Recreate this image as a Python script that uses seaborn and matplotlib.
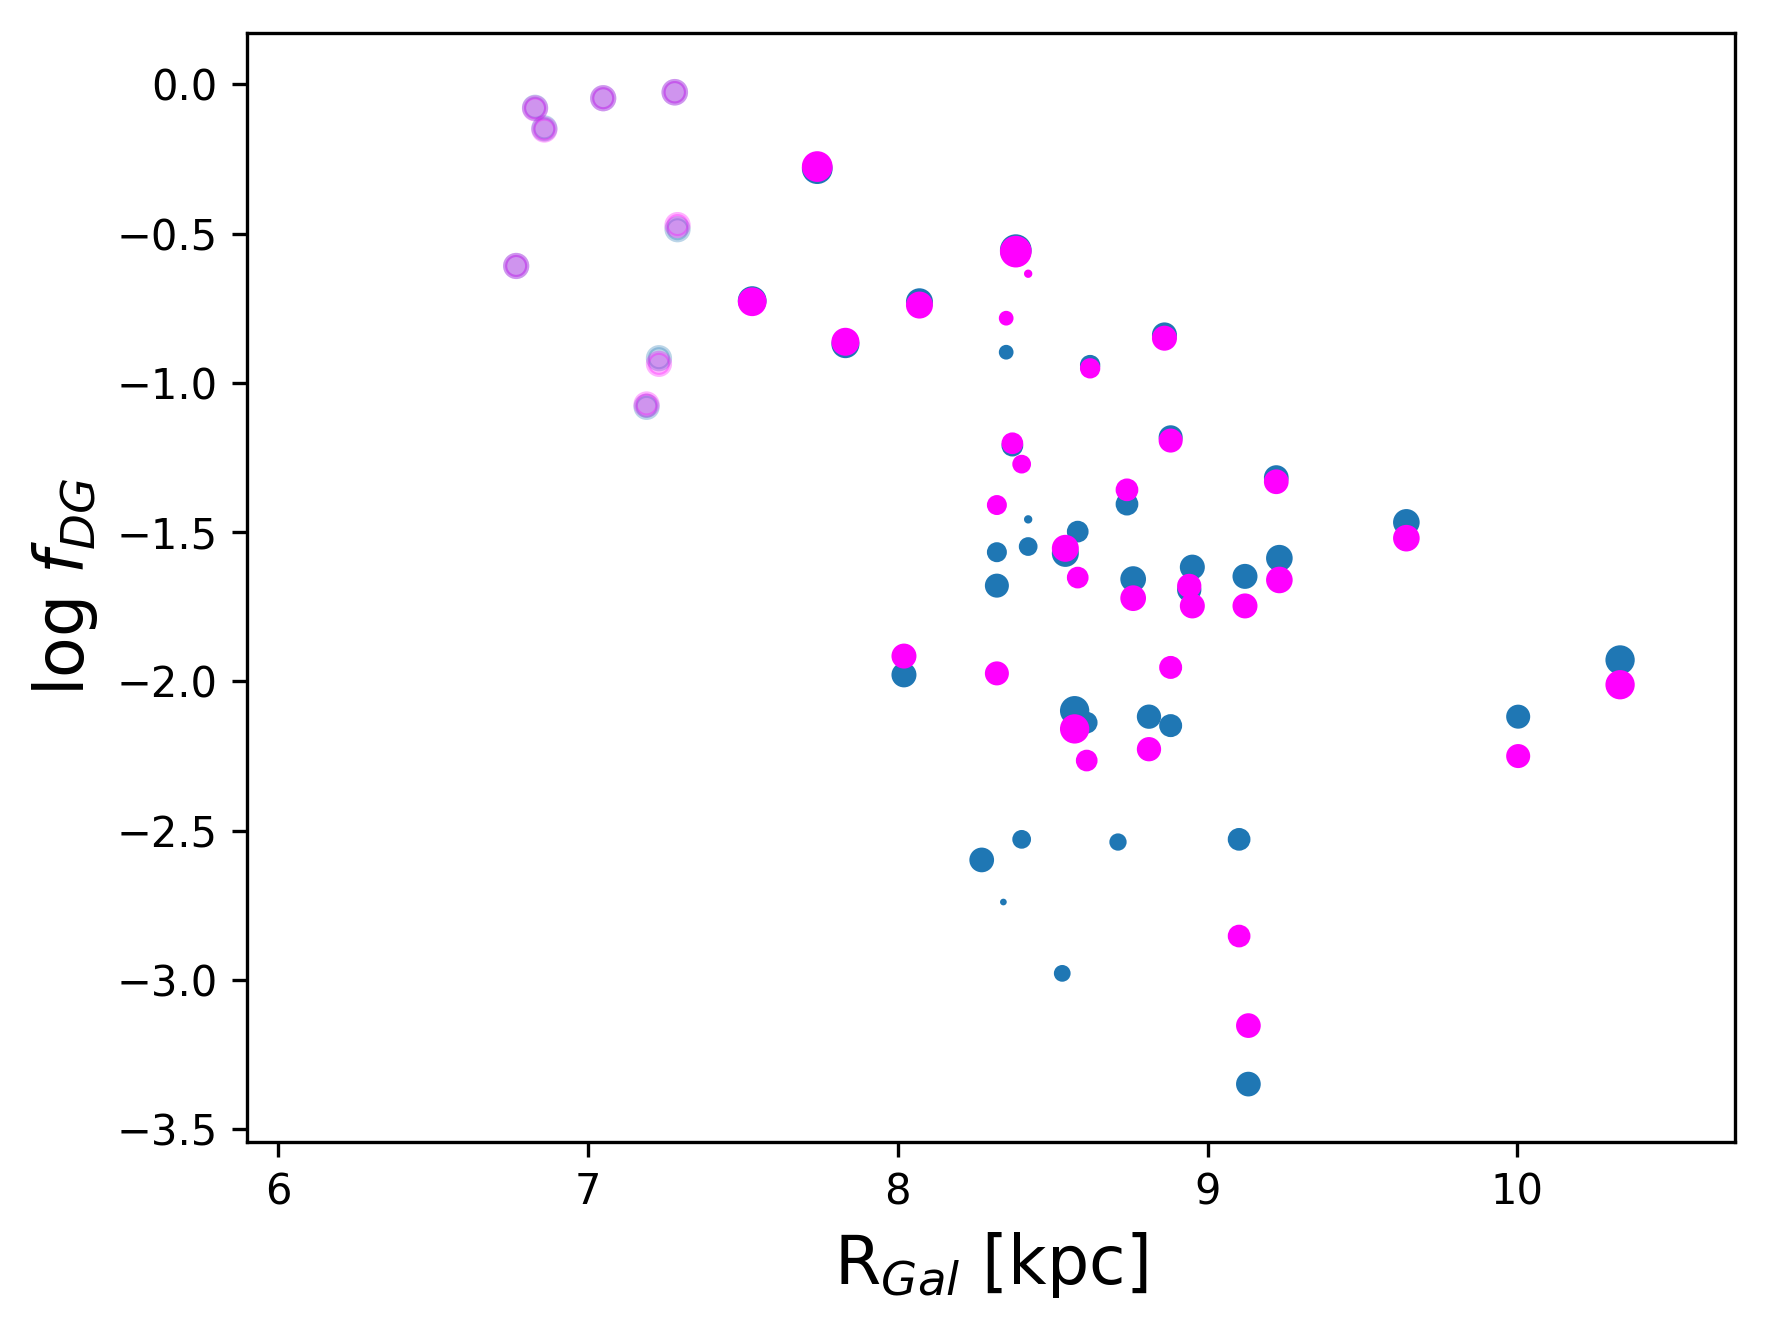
import numpy as np
import pandas as pd
import matplotlib
matplotlib.use("Agg")
import matplotlib.pyplot as plt
import seaborn as sns

# ---- data ----
# inner stars, drawn semi-transparent
R_inner = [6.768, 6.829, 6.859, 7.049, 7.189, 7.229, 7.280, 7.289]
logf_blue_inner = [-0.608, -0.078, -0.147, -0.046, -1.080, -0.917, -0.026, -0.485]
logf_mag_inner = [-0.608, -0.080, -0.151, -0.046, -1.072, -0.936, -0.026, -0.471]
size_inner = [28, 28, 28, 28, 28, 28, 29, 28]

# remaining stars
R_gal = [7.530, 7.740, 7.831, 8.020, 8.070, 8.271, 8.320, 8.320, 8.341, 8.350,
         8.370, 8.381, 8.400, 8.421, 8.421, 8.531, 8.541, 8.571, 8.581, 8.610,
         8.621, 8.711, 8.740, 8.760, 8.811, 8.861, 8.881, 8.881, 8.941, 8.951,
         9.102, 9.121, 9.132, 9.222, 9.232, 9.642, 10.003, 10.332]
logf_blue = [-0.724, -0.282, -0.870, -1.978, -0.728, -2.598, -1.567, -1.679, -2.739, -0.897,
             -1.210, -0.555, -2.529, -1.457, -1.548, -2.978, -1.571, -2.098, -1.498, -2.138,
             -0.940, -2.538, -1.406, -1.657, -2.118, -0.839, -1.182, -2.148, -1.693, -1.617,
             -2.529, -1.648, -3.349, -1.317, -1.587, -1.467, -2.118, -1.928]
logf_mag = [-0.728, -0.275, -0.862, -1.915, -0.739, np.nan, -1.409, -1.973, np.nan, -0.783,
            -1.202, -0.560, -1.272, -0.634, np.nan, np.nan, -1.554, -2.159, -1.652, -2.265,
            -0.951, np.nan, -1.358, -1.721, -2.227, -0.850, -1.193, -1.953, -1.680, -1.747,
            -2.853, -1.747, -3.153, -1.331, -1.660, -1.520, -2.250, -2.011]
sizes = [34.7, 40.6, 32.7, 25.0, 30.0, 24.3, 14.4, 22.7, 0.37, 6.4,
         17.7, 43.6, 12.2, 1.0, 12.2, 9.1, 30.0, 36.4, 17.7, 17.7,
         15.0, 9.9, 19.8, 26.7, 23.3, 25.0, 22.7, 20.4, 23.3, 25.0,
         19.8, 25.0, 24.3, 24.3, 29.0, 29.0, 22.7, 36.4]

BLUE = "#1f77b4"
MAG = "#ff00ff"

fig = plt.figure(figsize=(1768 / 300, 1330 / 300), dpi=300)
ax = fig.add_axes([247 / 1768, 1 - 1142 / 1330, (1735 - 247) / 1768, (1142 - 33) / 1330])


def draw(R, y, s, color, alpha=1.0):
    df = pd.DataFrame({"R": R, "y": y, "s": s}).dropna()
    sns.scatterplot(x=df["R"].to_numpy(), y=df["y"].to_numpy(), s=df["s"].to_numpy(),
                    color=color, edgecolor=color, linewidth=1.0, alpha=alpha,
                    legend=False, ax=ax)


draw(R_gal, logf_blue, sizes, BLUE)
draw(R_gal, logf_mag, sizes, MAG)
draw(R_inner, logf_blue_inner, size_inner, BLUE, alpha=0.3)
draw(R_inner, logf_mag_inner, size_inner, MAG, alpha=0.3)

ax.set_xlim(5.899, 10.703)
ax.set_ylim(-3.543, 0.1725)
ax.set_xticks([6, 7, 8, 9, 10])
ax.set_yticks([0.0, -0.5, -1.0, -1.5, -2.0, -2.5, -3.0, -3.5])
ax.set_xlabel(r"R$_{Gal}$ [kpc]", fontsize=16)
ax.set_ylabel(r"log $f_{DG}$", fontsize=16)

fig.savefig("out.png", dpi=300)
